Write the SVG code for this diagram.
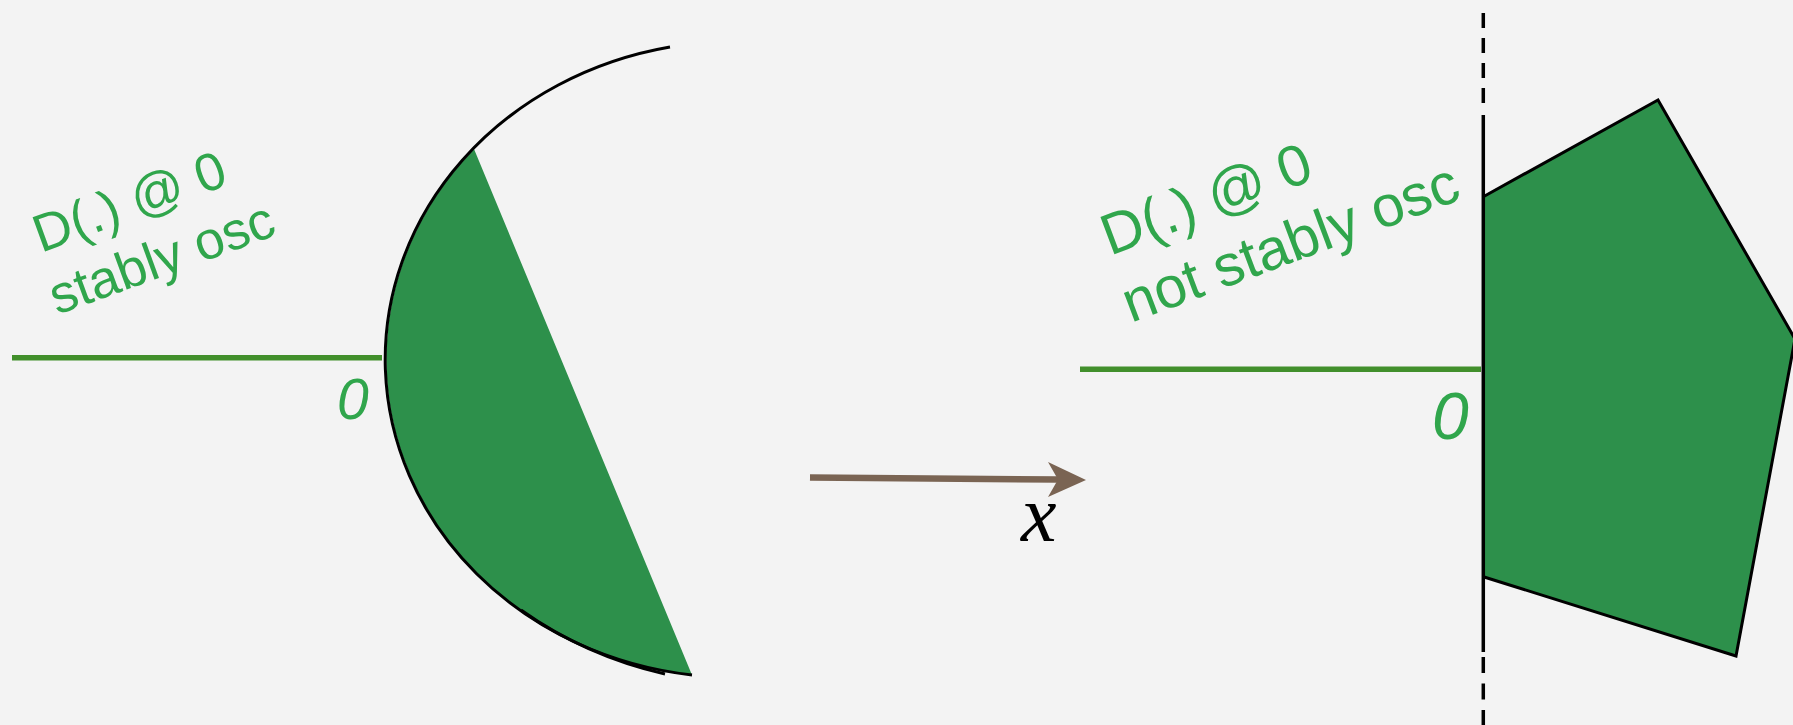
<svg xmlns="http://www.w3.org/2000/svg" width="1793" height="725" viewBox="0 0 1793 725">
  <style>
    .lbl { fill: #30a64c; }
    .zero { font-style: italic; fill: #30a64c; }
    .axis { stroke: #418f2b; stroke-width: 5.5; fill: none; }
    .shape { fill: #2d904b; stroke: none; }
    .edge { fill: none; stroke: #000; stroke-width: 3; stroke-linejoin: miter; }
  </style>
  <rect x="0" y="0" width="1793" height="725" fill="#f3f3f3"/>

  <g id="left-panel">
    <line class="axis" x1="12" y1="357.7" x2="382" y2="357.7"/>
    <text class="zero" font-family="Liberation Sans, sans-serif" x="337" y="419" font-size="57">0</text>
    <text class="lbl" font-family="Liberation Sans, sans-serif" font-size="53" transform="translate(41,253) rotate(-20)">D(.) @ 0</text>
    <text class="lbl" font-family="Liberation Sans, sans-serif" font-size="53" transform="translate(57,315) rotate(-20)">stably osc</text>
    <path class="shape" d="M474,149 A350,318 0 0,0 692,675 Z"/>
    <path class="edge" d="M670,47 A350,318 0 0,0 692,675"/>
    <path class="edge" d="M521,610 C566,642 617,663 665,674"/>
  </g>

  <g id="connectors">
    <line x1="810" y1="477.5" x2="1058" y2="479.5" stroke="#7a6453" stroke-width="6.5"/>
    <polygon points="1086,480 1048,462 1058,479.5 1048,497" fill="#7a6453"/>
    <text x="1021" y="541" font-family="Liberation Serif, serif" font-style="italic" font-size="80" fill="#000">x</text>
  </g>

  <g id="right-panel">
    <line class="axis" x1="1080" y1="369.3" x2="1481" y2="369.3"/>
    <text class="zero" font-family="Liberation Sans, sans-serif" x="1432" y="439" font-size="66">0</text>
    <text class="lbl" font-family="Liberation Sans, sans-serif" font-size="58" transform="translate(1110,256) rotate(-20.5)">D(.) @ 0</text>
    <text class="lbl" font-family="Liberation Sans, sans-serif" font-size="58" transform="translate(1131,323) rotate(-20.5)">not stably osc</text>
    <polygon class="shape" points="1483.3,196.7 1658,100 1795,339 1736,656 1483.3,576.7"/>
    <polyline class="edge" points="1483.3,196.7 1658,100 1795,339 1736,656 1483.3,576.7"/>
    <line x1="1483.3" y1="13" x2="1483.3" y2="113" stroke="#000" stroke-width="3.5" stroke-dasharray="15 10"/>
    <line x1="1483.3" y1="115" x2="1483.3" y2="652" stroke="#000" stroke-width="3.5"/>
    <line x1="1483.3" y1="657" x2="1483.3" y2="725" stroke="#000" stroke-width="3.5" stroke-dasharray="16 10.5"/>
  </g>
</svg>
